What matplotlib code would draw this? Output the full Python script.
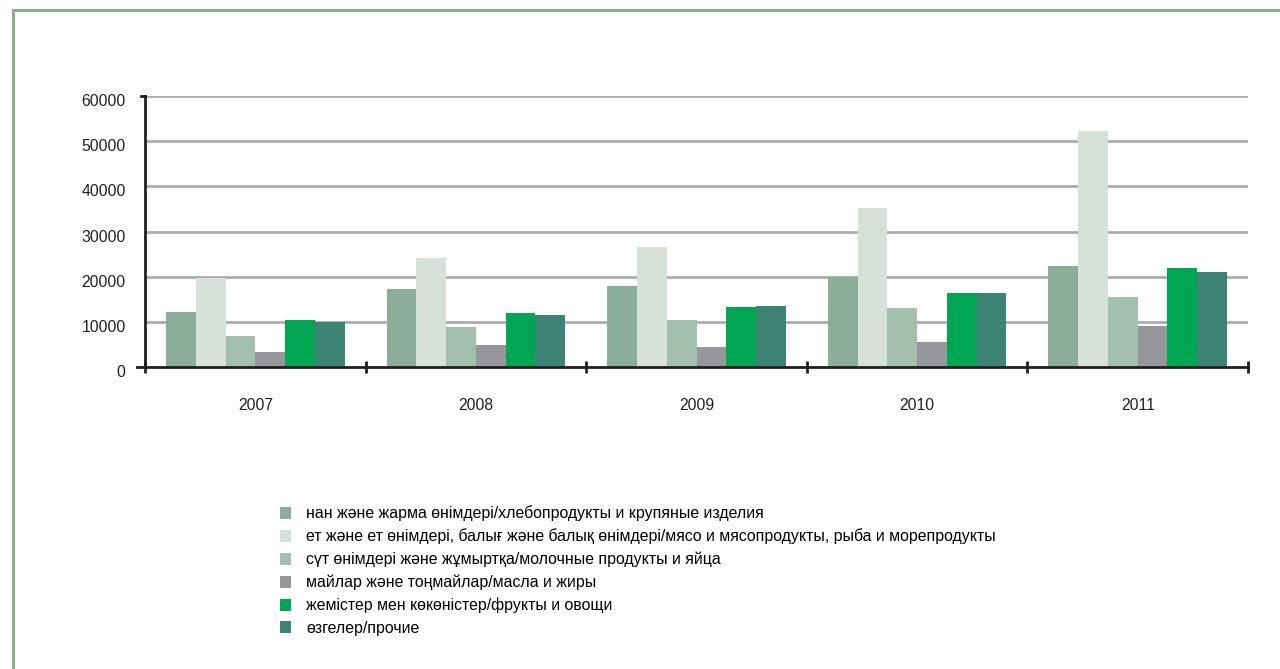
import matplotlib
matplotlib.use("Agg")
import matplotlib.pyplot as plt
import matplotlib.transforms as mtransforms
from matplotlib.patches import Rectangle, Patch
from matplotlib.transforms import blended_transform_factory
import numpy as np

plt.rcParams['font.family'] = ['Liberation Sans', 'DejaVu Sans']

years = ['2007', '2008', '2009', '2010', '2011']
series_names = [
    'нан және жарма өнімдері/хлебопродукты и крупяные изделия',
    'ет және ет өнімдері, балығ және балық өнімдері/мясо и мясопродукты, рыба и морепродукты',
    'сүт өнімдері және жұмыртқа/молочные продукты и яйца',
    'майлар және тоңмайлар/масла и жиры',
    'жемістер мен көкөністер/фрукты и овощи',
    'өзгелер/прочие',
]
bread = [12200, 17300, 17900, 19900, 22400]
meat = [19800, 24100, 26600, 35200, 52200]
dairy = [6900, 8900, 10400, 13100, 15500]
fats = [3300, 4900, 4400, 5500, 9100]
fruit = [10400, 12000, 13300, 16400, 21900]
other = [10000, 11500, 13500, 16400, 21000]
values = [bread, meat, dairy, fats, fruit, other]
colors = ['#8aae98', '#d6e1da', '#a3bfad', '#96979b', '#00a651', '#3d8476']
yticks = [0, 10000, 20000, 30000, 40000, 50000, 60000]

W, H = 1280, 669
fig = plt.figure(figsize=(W / 100, H / 100), dpi=100)

# page frame
fig.patches.append(Rectangle((13 / W, -0.1), 1.2, 1 - 9.5 / H + 0.1,
                             transform=fig.transFigure, fill=False,
                             edgecolor='#8aae98', linewidth=2.2))

ax = fig.add_axes([145 / W, 1 - 367 / H, (1248 - 145) / W, (367 - 96) / H])
x = np.arange(len(years))
n = len(values)
bw = 0.81 / n
for i, (vals, c) in enumerate(zip(values, colors)):
    ax.bar(x - 0.405 + bw * (i + 0.5), vals, width=bw, color=c,
           label=series_names[i], zorder=3, linewidth=0)

ax.set_xlim(-0.5, len(years) - 0.5)
ax.set_ylim(0, 60000)
ax.set_yticks(yticks)
ax.set_yticklabels([str(v) for v in yticks])
for v in yticks[1:]:
    ax.axhline(v, color='#adadb1', lw=2, zorder=1)

for s in ['top', 'right']:
    ax.spines[s].set_visible(False)
ax.spines['left'].set_color('#231f20')
ax.spines['left'].set_linewidth(2)
ax.spines['bottom'].set_color('#231f20')
ax.spines['bottom'].set_linewidth(2)
ax.spines['bottom'].set_zorder(4)

ax.set_xticks(np.arange(-0.5, len(years)), minor=False)
ax.set_xticklabels([''] * (len(years) + 1))
ax.set_xticks(x, minor=True)
ax.set_xticklabels(years, minor=True)
ax.tick_params(axis='x', which='major', direction='inout', length=9, width=2,
               color='#231f20')
ax.tick_params(axis='x', which='minor', length=0, pad=22, labelsize=11.3,
               labelcolor='#231f20')
ax.tick_params(axis='y', length=0, pad=14, labelsize=11.3, labelcolor='#231f20')
offset = mtransforms.ScaledTranslation(0, -4 / 100, fig.dpi_scale_trans)
for lab in ax.get_yticklabels():
    lab.set_transform(lab.get_transform() + offset)

# axis extensions
tr = blended_transform_factory(ax.transAxes, ax.transData)
ax.plot([-0.007, 0], [0, 0], transform=tr, color='#231f20', lw=2, clip_on=False)
ax.plot([-0.004, 0], [60000, 60000], transform=tr, color='#231f20', lw=2, clip_on=False)

handles = [Patch(facecolor=c, edgecolor='none', label=l) for c, l in zip(colors, series_names)]
fig.legend(handles=handles, loc='upper left', bbox_to_anchor=(274 / W, 1 - 499 / H),
           frameon=False, fontsize=11.4, handlelength=0.65, handleheight=0.8,
           handletextpad=1.0, labelspacing=0.47, borderaxespad=0)

fig.savefig('out.png', dpi=100, facecolor='white')
